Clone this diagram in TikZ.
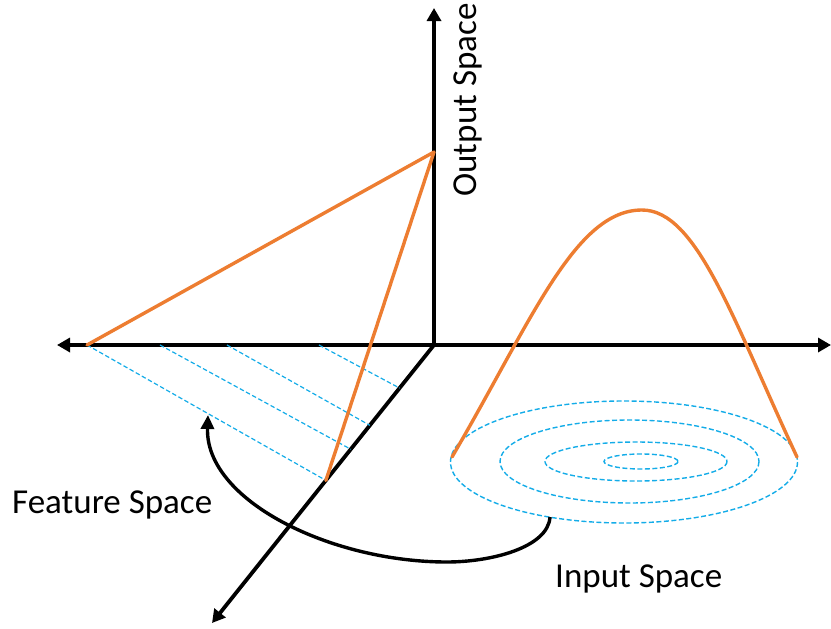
\documentclass[tikz,border=0pt]{standalone}
\usepackage{fontspec}
\setmainfont{Carlito}
\usetikzlibrary{arrows.meta,calc}
\definecolor{orng}{RGB}{237,125,49}
\definecolor{sky}{RGB}{20,172,232}
\begin{document}
\begin{tikzpicture}[x=1pt,y=-1pt,
  axis/.style={line width=3.8pt,{Triangle[length=13pt,width=14pt]}-{Triangle[length=13pt,width=14pt]}},
  axisone/.style={line width=3.8pt,-{Triangle[length=13pt,width=14pt]}},
  orangeline/.style={line width=3.4pt,orng,line cap=round,line join=round},
  proj/.style={line width=1.2pt,sky,dash pattern=on 4.5pt off 2.5pt},
  contour/.style={line width=1.4pt,sky,dash pattern=on 5pt off 2.5pt},
  lbl/.style={inner sep=0pt,font=\fontsize{35}{42}\selectfont}]
\useasboundingbox (0,0) rectangle (831,629);
% axes
\coordinate (O) at (434,345);
\coordinate (L) at (57,345);
\coordinate (R) at (831,345);
\coordinate (T) at (434,8);
\coordinate (D) at (212,623);
\draw[axis] (L) -- (R);
\draw[axisone] (O) -- (T);
\draw[axisone] (O) -- (D);
% projection lines
\coordinate (a1) at (87,345);
\coordinate (a2) at (160,345);
\coordinate (a3) at (227,345);
\coordinate (a4) at (319,345);
\coordinate (b1) at ($(O)!0.487!(D)$);
\coordinate (b2) at ($(O)!0.375!(D)$);
\coordinate (b3) at ($(O)!0.289!(D)$);
\coordinate (b4) at ($(O)!0.155!(D)$);
\foreach \i in {1,2,3,4} \draw[proj] (a\i) -- (b\i);
% orange linear function
\coordinate (P) at (434,152);
\draw[orangeline] (a1) -- (P) -- (b1);
% contours
\draw[contour] (624,462) ellipse [x radius=173.5, y radius=61];
\draw[contour] (629.5,461.5) ellipse [x radius=129.5, y radius=41.5];
\draw[contour] (636,461.5) ellipse [x radius=91, y radius=19.5];
\draw[contour] (641,461.5) ellipse [x radius=37, y radius=7.5];
% parabola
\coordinate (c0) at (452,457);
\coordinate (c1) at (642,210);
\coordinate (c2) at (797,457);
\draw[orangeline] (c0) .. controls (532,320) and (575,210) .. (c1)
  .. controls (697,210) and (733,320) .. (c2);
% curved arrow
\coordinate (s0) at (550,517);
\coordinate (s1) at (447,562);
\coordinate (s2) at (208,415);
\draw[line width=3.4pt,-{Triangle[length=14pt,width=13pt]}] (s0) .. controls (548,548) and (490,562) .. (s1)
  .. controls (330,562) and (205,500) .. (s2);
% labels
\node[lbl,anchor=base west] (fs) at (12,513) {Feature Space};
\node[lbl,anchor=base west] (is) at (555,587) {Input Space};
\node[lbl,anchor=base,rotate=90] (os) at (476,100) {Output Space};
\end{tikzpicture}
\end{document}
